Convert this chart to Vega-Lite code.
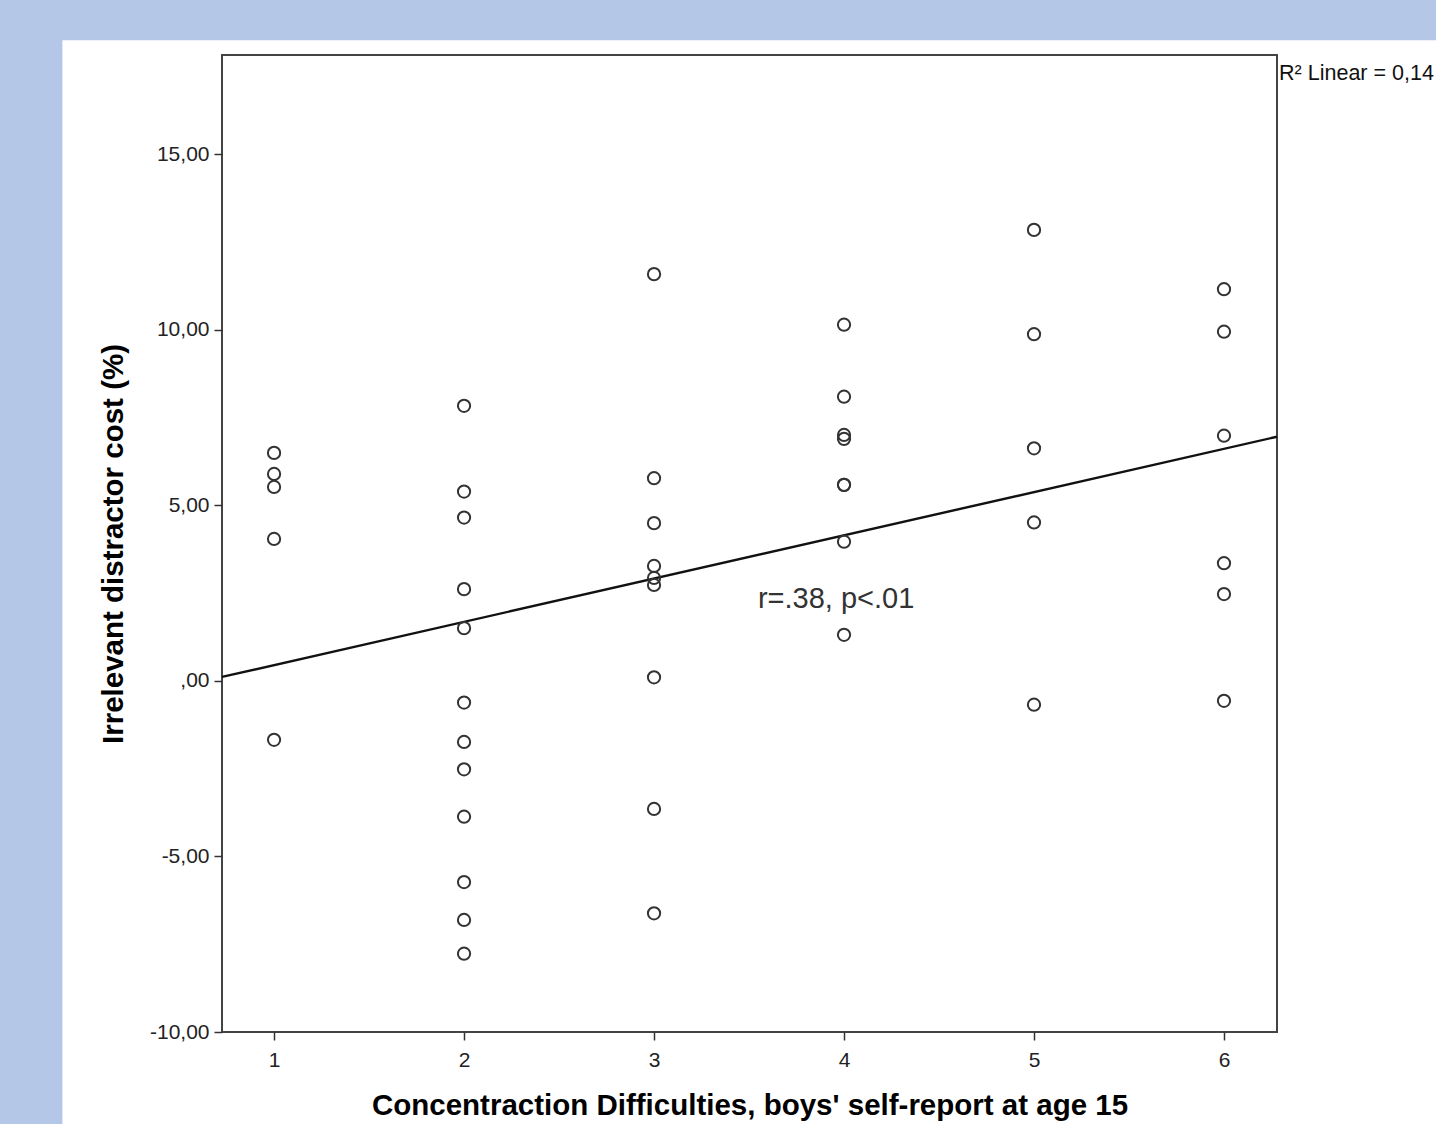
{
  "$schema": "https://vega.github.io/schema/vega-lite/v6.json",
  "width": 1055,
  "height": 977,
  "autosize": {"type": "none"},
  "padding": {"left": 222, "top": 55, "right": 159, "bottom": 92},
  "background": "#B4C7E7",
  "config": {"view": {"stroke": null}, "font": "Liberation Sans"},
  "datasets": {
    "points": [
      {"score": 1, "cost": 6.49}, {"score": 1, "cost": 5.89}, {"score": 1, "cost": 5.52}, {"score": 1, "cost": 4.04}, {"score": 1, "cost": -1.68},
      {"score": 2, "cost": 7.83}, {"score": 2, "cost": 5.39}, {"score": 2, "cost": 4.65}, {"score": 2, "cost": 2.61}, {"score": 2, "cost": 1.50}, {"score": 2, "cost": -0.62}, {"score": 2, "cost": -1.74}, {"score": 2, "cost": -2.52}, {"score": 2, "cost": -3.87}, {"score": 2, "cost": -5.73}, {"score": 2, "cost": -6.81}, {"score": 2, "cost": -7.77},
      {"score": 3, "cost": 11.58}, {"score": 3, "cost": 5.77}, {"score": 3, "cost": 4.49}, {"score": 3, "cost": 3.27}, {"score": 3, "cost": 2.93}, {"score": 3, "cost": 2.73}, {"score": 3, "cost": 0.10}, {"score": 3, "cost": -3.65}, {"score": 3, "cost": -6.62},
      {"score": 4, "cost": 10.14}, {"score": 4, "cost": 8.09}, {"score": 4, "cost": 7.00}, {"score": 4, "cost": 6.89}, {"score": 4, "cost": 5.58}, {"score": 4, "cost": 5.58}, {"score": 4, "cost": 3.96}, {"score": 4, "cost": 1.31},
      {"score": 5, "cost": 12.84}, {"score": 5, "cost": 9.87}, {"score": 5, "cost": 6.62}, {"score": 5, "cost": 4.51}, {"score": 5, "cost": -0.68},
      {"score": 6, "cost": 11.15}, {"score": 6, "cost": 9.94}, {"score": 6, "cost": 6.98}, {"score": 6, "cost": 3.35}, {"score": 6, "cost": 2.47}, {"score": 6, "cost": -0.57}
    ],
    "fit": [
      {"score": 0.726, "cost": 0.11},
      {"score": 6.279, "cost": 6.95}
    ],
    "labels": [
      {"score": 3.547, "cost": 2.33, "text": "r=.38, p<.01"}
    ],
    "corner": [
      {"score": 6.29, "cost": 17.28, "text": "R² Linear = 0,14"}
    ],
    "panel": [
      {"x0": -0.114, "x1": 7.4, "y0": 18.24, "y1": -13.5}
    ],
    "frame": [
      {"x0": 0.726, "x1": 6.279, "y0": 17.82, "y1": -10}
    ]
  },
  "layer": [
    {
      "data": {"name": "panel"},
      "mark": {"type": "rect", "fill": "white", "clip": false},
      "encoding": {
        "x": {"field": "x0", "type": "quantitative", "scale": {"domain": [0.726, 6.279], "nice": false, "zero": false}, "axis": {
          "title": "Concentraction Difficulties, boys' self-report at age 15",
          "values": [1, 2, 3, 4, 5, 6], "format": "d",
          "domain": false, "grid": false, "zindex": 1,
          "tickSize": 8, "tickColor": "#333333", "tickWidth": 1.5,
          "labelFontSize": 21, "labelColor": "#222222", "labelPadding": 9, "labelFlush": false,
          "titleFontSize": 29.5, "titleFontWeight": "bold", "titleColor": "#000000", "titlePadding": 21
        }},
        "x2": {"field": "x1"},
        "y": {"field": "y0", "type": "quantitative", "scale": {"domain": [-10, 17.82], "nice": false, "zero": false}, "axis": {
          "title": "Irrelevant distractor cost (%)",
          "values": [-10, -5, 0, 5, 10, 15],
          "labelExpr": "(datum.value < 0 ? '-' : '') + (datum.value == 0 ? ',00' : replace(format(abs(datum.value), '.2f'), '.', ','))",
          "domain": false, "grid": false, "zindex": 1,
          "tickSize": 8, "tickColor": "#333333", "tickWidth": 1.5,
          "labelFontSize": 21, "labelColor": "#222222", "labelPadding": 5, "labelFlush": false,
          "titleFontSize": 29.5, "titleFontWeight": "bold", "titleColor": "#000000", "titlePadding": 21
        }},
        "y2": {"field": "y1"}
      }
    },
    {
      "data": {"name": "frame"},
      "mark": {"type": "rect", "fill": null, "stroke": "#444444", "strokeWidth": 2, "clip": false},
      "encoding": {
        "x": {"field": "x0", "type": "quantitative", "scale": {"domain": [0.726, 6.279], "nice": false, "zero": false}},
        "x2": {"field": "x1"},
        "y": {"field": "y0", "type": "quantitative", "scale": {"domain": [-10, 17.82], "nice": false, "zero": false}},
        "y2": {"field": "y1"}
      }
    },
    {
      "data": {"name": "fit"},
      "mark": {"type": "line", "color": "#111111", "strokeWidth": 2.4},
      "encoding": {
        "x": {"field": "score", "type": "quantitative", "scale": {"domain": [0.726, 6.279], "nice": false, "zero": false}},
        "y": {"field": "cost", "type": "quantitative", "scale": {"domain": [-10, 17.82], "nice": false, "zero": false}}
      }
    },
    {
      "data": {"name": "points"},
      "mark": {"type": "point", "shape": "circle", "filled": false, "size": 150, "stroke": "#333333", "strokeWidth": 2, "opacity": 1},
      "encoding": {
        "x": {"field": "score", "type": "quantitative", "scale": {"domain": [0.726, 6.279], "nice": false, "zero": false}},
        "y": {"field": "cost", "type": "quantitative", "scale": {"domain": [-10, 17.82], "nice": false, "zero": false}}
      }
    },
    {
      "data": {"name": "labels"},
      "mark": {"type": "text", "align": "left", "baseline": "middle", "fontSize": 29, "color": "#333333", "clip": false},
      "encoding": {
        "x": {"field": "score", "type": "quantitative", "scale": {"domain": [0.726, 6.279], "nice": false, "zero": false}},
        "y": {"field": "cost", "type": "quantitative", "scale": {"domain": [-10, 17.82], "nice": false, "zero": false}},
        "text": {"field": "text"}
      }
    },
    {
      "data": {"name": "corner"},
      "mark": {"type": "text", "align": "left", "baseline": "middle", "fontSize": 21.5, "color": "#111111", "clip": false},
      "encoding": {
        "x": {"field": "score", "type": "quantitative", "scale": {"domain": [0.726, 6.279], "nice": false, "zero": false}},
        "y": {"field": "cost", "type": "quantitative", "scale": {"domain": [-10, 17.82], "nice": false, "zero": false}},
        "text": {"field": "text"}
      }
    }
  ]
}
